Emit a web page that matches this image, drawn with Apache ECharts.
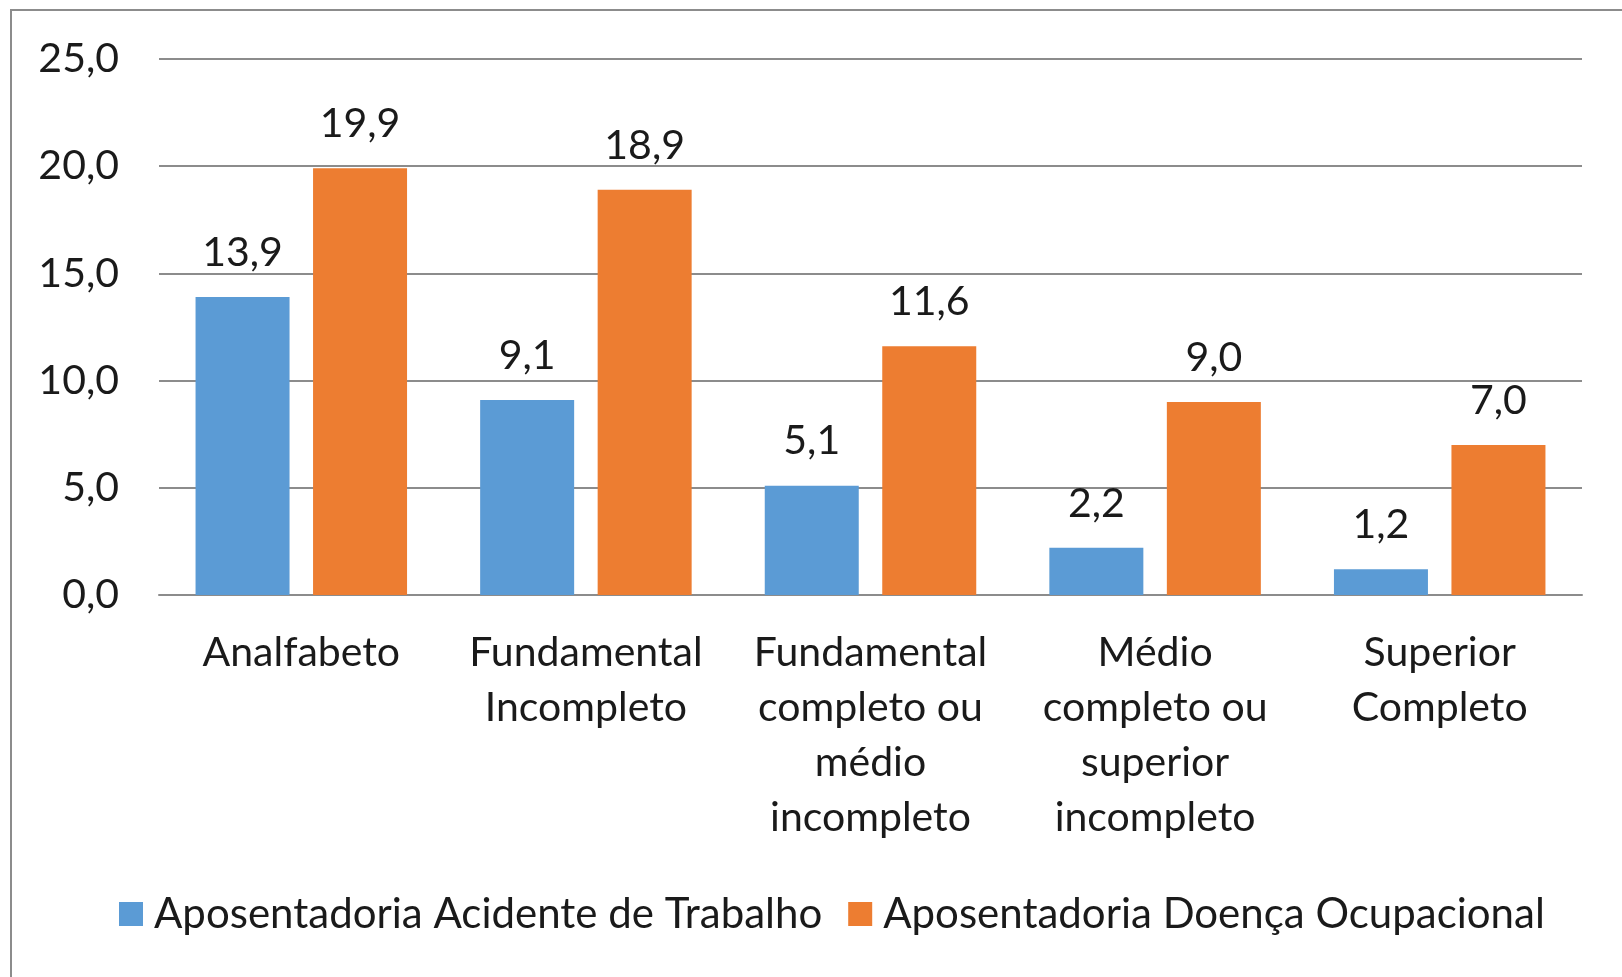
<!DOCTYPE html>
<html>
<head>
<meta charset="utf-8">
<script src="https://cdn.jsdelivr.net/npm/echarts@6/dist/echarts.min.js"></script>
<style>html,body{margin:0;padding:0;background:#fff}#c{width:1622px;height:977px}</style>
</head>
<body>
<div id="c"></div>
<script>
const categories = ["Analfabeto", "Fundamental\nIncompleto", "Fundamental\ncompleto ou\nmédio\nincompleto", "Médio\ncompleto ou\nsuperior\nincompleto", "Superior\nCompleto"];
const seriesNames = ["Aposentadoria Acidente de Trabalho", "Aposentadoria Doença Ocupacional"];
const acidente = [13.9, 9.1, 5.1, 2.2, 1.2];
const doenca = [19.9, 18.9, 11.6, 9.0, 7.0];
const yTicks = [0, 5, 10, 15, 20, 25];

const FONT = 'Lato';
const fmt = v => v.toFixed(1).replace('.', ',');
const chart = echarts.init(document.getElementById('c'));
const labelCfg = {
  show: true, position: 'top', distance: 24,
  formatter: p => fmt(p.value),
  fontFamily: FONT, fontSize: 41, color: '#1a1a1a'
};
chart.setOption({
  animation: false,
  backgroundColor: '#fff',
  graphic: [{
    type: 'rect', shape: {x: 11, y: 10, width: 1700, height: 1100},
    style: {fill: 'none', stroke: '#8c8c8c', lineWidth: 2}
  }],
  legend: {
    left: 114, top: 888,
    itemWidth: 24, itemHeight: 24, itemGap: 26,
    icon: 'rect',
    textStyle: {fontFamily: FONT, fontSize: 42, color: '#1a1a1a', padding: [0, 0, 0, 6]},
    data: seriesNames
  },
  grid: {left: 159, right: 40, top: 59, bottom: 382, containLabel: false},
  xAxis: {
    type: 'category', data: categories,
    axisLine: {lineStyle: {color: '#8c8c8c', width: 2}},
    axisTick: {show: false},
    axisLabel: {fontFamily: FONT, fontSize: 41, color: '#1a1a1a', lineHeight: 55, margin: 30, interval: 0}
  },
  yAxis: {
    type: 'value', min: yTicks[0], max: yTicks[yTicks.length - 1], interval: 5,
    axisLine: {show: false}, axisTick: {show: false},
    splitLine: {lineStyle: {color: '#8c8c8c', width: 2}},
    axisLabel: {fontFamily: FONT, fontSize: 41, color: '#1a1a1a', margin: 40, formatter: v => fmt(v)}
  },
  series: [
    {name: seriesNames[0], type: 'bar', data: acidente, barWidth: 94, barGap: '25%',
     itemStyle: {color: '#5B9BD5'}, label: labelCfg},
    {name: seriesNames[1], type: 'bar', data: doenca, barWidth: 94, barGap: '25%',
     itemStyle: {color: '#ED7D31'}, label: labelCfg}
  ]
});
</script>
</body>
</html>
